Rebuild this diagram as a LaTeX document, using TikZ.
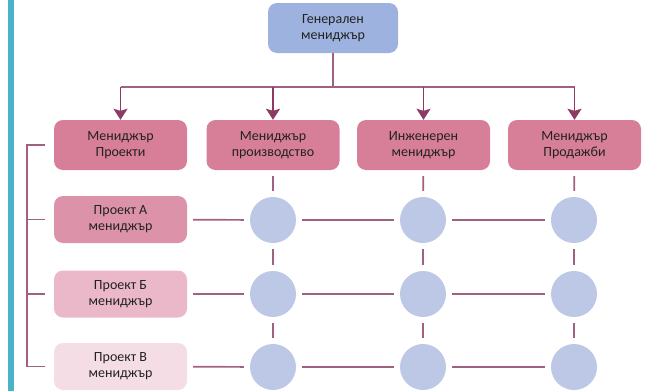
\documentclass[tikz,border=0pt]{standalone}
\usepackage{fontspec}
\setmainfont{Carlito}
\usepackage{xcolor}
\usepackage{tikz}
\usetikzlibrary{arrows.meta,positioning}
\definecolor{barc}{HTML}{4AB2C9}
\definecolor{gmc}{HTML}{9DB2DE}
\definecolor{dotc}{HTML}{BCC8E6}
\definecolor{mgrc}{HTML}{D77E98}
\definecolor{prA}{HTML}{DC93A9}
\definecolor{prB}{HTML}{EAB8C8}
\definecolor{prC}{HTML}{F4DDE5}
\definecolor{lnc}{HTML}{A0607F}
\definecolor{arc}{HTML}{8E3A65}
\definecolor{txtc}{HTML}{222222}
\tikzset{
  box/.style={rounded corners=9pt,minimum width=133pt,minimum height=50pt,inner sep=2pt,
    align=center,text=txtc,font=\fontsize{14}{16}\selectfont},
  pbox/.style={box,minimum height=47pt},
  dot/.style={circle,fill=dotc,minimum size=46pt,inner sep=0pt},
  ln/.style={lnc,line width=1.7pt},
  gap/.style={ln,shorten <=6pt,shorten >=6pt},
  ar/.style={-{Stealth[length=11pt,width=14pt,inset=2pt]},line width=1.7pt,arc}
}

\begin{document}
\begin{tikzpicture}[x=1pt,y=-1pt]
\useasboundingbox (0,0) rectangle (647,391);
\fill[barc] (8,0) rectangle (13.5,391);
% top
\node[box,fill=gmc,minimum width=130pt] (gm) at (333,28) {Генерален\\мениджър};
\node[box,fill=mgrc] (pm) at (120.5,145) {Мениджър\\Проекти};
\node[box,fill=mgrc] (pp) at (273,145) {Мениджър\\производство};
\node[box,fill=mgrc] (em) at (423.5,145) {Инженерен\\мениджър};
\node[box,fill=mgrc] (sm) at (574.5,145) {Мениджър\\Продажби};
\coordinate (bus) at (0,87);
\draw[ln] (gm.south) -- (gm.south |- bus);
\draw[ln] (pm.north |- bus) -- (sm.north |- bus);
\draw[ar] (pm.north |- bus) -- (pm.north);
\draw[ar] (pp.north |- bus) -- (pp.north);
\draw[ar] (em.north |- bus) -- (em.north);
\draw[ar] (sm.north |- bus) -- (sm.north);
% projects
\node[pbox,fill=prA] (pa) at (120.5,219.5) {Проект А\\мениджър};
\node[pbox,fill=prB] (pb) at (120.5,294) {Проект Б\\мениджър};
\node[pbox,fill=prC] (pc) at (120.5,366.5) {Проект В\\мениджър};
\node[dot] (a1) at (273,220) {};
\node[dot] (a2) at (423,220) {};
\node[dot] (a3) at (574,220) {};
\node[dot] (b1) at (273,294) {};
\node[dot] (b2) at (423,294) {};
\node[dot] (b3) at (574,294) {};
\node[dot] (c1) at (273,367) {};
\node[dot] (c2) at (423,367) {};
\node[dot] (c3) at (574,367) {};
% matrix links
\draw[gap] (pa) -- (a1); \draw[gap] (a1) -- (a2); \draw[gap] (a2) -- (a3);
\draw[gap] (pb) -- (b1); \draw[gap] (b1) -- (b2); \draw[gap] (b2) -- (b3);
\draw[gap] (pc) -- (c1); \draw[gap] (c1) -- (c2); \draw[gap] (c2) -- (c3);
\draw[gap] (pp) -- (a1); \draw[gap] (a1) -- (b1); \draw[gap] (b1) -- (c1);
\draw[gap] (em) -- (a2); \draw[gap] (a2) -- (b2); \draw[gap] (b2) -- (c2);
\draw[gap] (sm) -- (a3); \draw[gap] (a3) -- (b3); \draw[gap] (b3) -- (c3);
% bracket
\coordinate (brk) at (27,0);
\draw[ln] ([xshift=-9pt]pm.west) -- (brk |- pm.west) -- (brk |- pc.west) -- ([xshift=-9pt]pc.west);
\draw[ln] (brk |- pa.west) -- ([xshift=-9pt]pa.west);
\draw[ln] (brk |- pb.west) -- ([xshift=-9pt]pb.west);
\end{tikzpicture}
\end{document}
